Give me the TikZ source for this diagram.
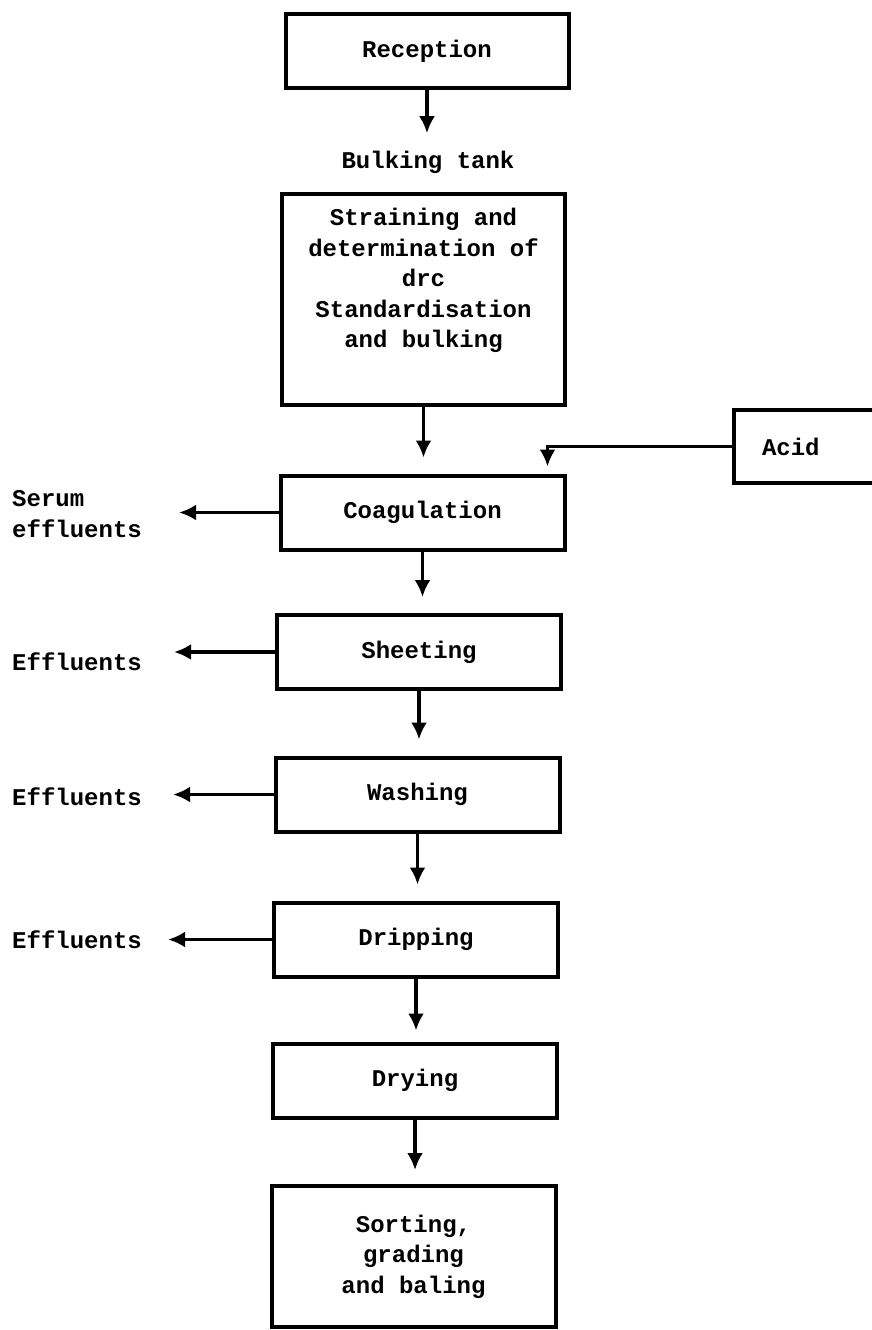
\documentclass[tikz,border=0pt]{standalone}
\usepackage{fontspec}
\setmonofont{Liberation Mono}
\usetikzlibrary{arrows.meta,positioning}

\begin{document}
\begin{tikzpicture}[
  x=1pt,y=-1pt,
  font=\ttfamily\bfseries\fontsize{24}{30.5}\selectfont,
  >={Latex[length=17pt,width=16pt]},
  box/.style={draw,line width=4pt,minimum width=284pt,minimum height=74pt,align=center,inner sep=0pt},
  flow/.style={->,line width=3.5pt,shorten >=16pt},
  side/.style={->,line width=3.5pt},
  lbl/.style={align=left,anchor=west,inner sep=0pt}
]
\path[use as bounding box,fill=white] (0,0) rectangle (872,1330);

% main line
\node[box,minimum width=283pt,minimum height=73pt] (recep) at (427,51) {Reception};
\node (bulk) at (428,162) {Bulking tank};
\node[box,minimum width=283pt,minimum height=211pt] (strain) at (423.5,299.5) {};
\node[anchor=north,align=center,inner sep=0pt] (straintext) at ([yshift=-16pt]strain.north)
  {Straining and\\determination of\\drc\\Standardisation\\and bulking};
\node[box] (coag) at (422.5,512.5) {Coagulation};
\node[box] (sheet) at (419,652) {Sheeting};
\node[box] (wash) at (417.5,794.5) {Washing};
\node[box] (drip) at (416,939.5) {Dripping};
\node[box] (dry) at (415,1080.5) {Drying};
\node[box,minimum height=141pt] (sort) at (413.5,1256.5) {Sorting,\\grading\\and baling};

\draw[flow,shorten >=14pt] (recep.south) -- (recep.south |- bulk.north);
\draw[flow] (strain.south) -- (strain.south |- coag.north);
\draw[flow] (coag.south) -- (coag.south |- sheet.north);
\draw[flow] (sheet.south) -- (sheet.south |- wash.north);
\draw[flow] (wash.south) -- (wash.south |- drip.north);
\draw[flow,shorten >=11pt] (drip.south) -- (drip.south |- dry.north);
\draw[flow,shorten >=14pt] (dry.south) -- (dry.south |- sort.north);

% acid feed
\node[box,minimum width=156pt,minimum height=73pt,text width=100pt,align=left] (acid) at (812,446.5) {Acid};
\draw[side,shorten >=7pt] (acid.west) -| ([xshift=125pt]coag.north);

% effluents
\node[lbl] (serum) at (12,514) {Serum\\effluents};
\node[lbl] (eff1) at (12,662) {Effluents};
\node[lbl] (eff2) at (12,797) {Effluents};
\node[lbl] (eff3) at (12,940) {Effluents};
\draw[side,shorten >=37pt] (coag.west) -- (coag.west -| serum.east);
\draw[side,shorten >=32pt] (sheet.west) -- (sheet.west -| eff1.east);
\draw[side,shorten >=31pt] (wash.west) -- (wash.west -| eff2.east);
\draw[side,shorten >=26pt] (drip.west) -- (drip.west -| eff3.east);
\end{tikzpicture}
\end{document}
